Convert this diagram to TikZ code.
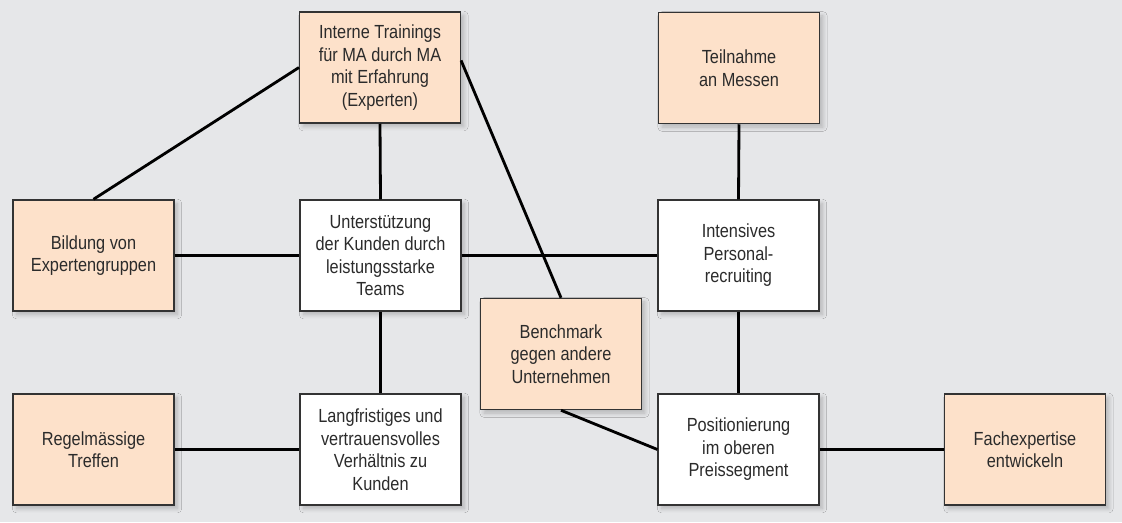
\documentclass[tikz,border=0pt]{standalone}
\usepackage{fontspec}
\setmainfont{Liberation Sans}[FakeStretch=0.86]
\usetikzlibrary{shadows.blur}
\definecolor{bggray}{HTML}{E6E7E9}
\definecolor{peach}{HTML}{FDE1CA}
\definecolor{boxline}{HTML}{333333}
\definecolor{txtgray}{HTML}{2B2B2B}

\begin{document}
\begin{tikzpicture}
        [x=0.025cm, y=-0.025cm,
        box/.style={rectangle, draw=boxline, line width=0.9pt, minimum width=4.02cm, minimum height=2.78cm,
            align=center, text=txtgray, font=\fontsize{13.5}{16}\selectfont, inner sep=2pt,
            blur shadow={shadow xshift=2.5pt, shadow yshift=-2.5pt, shadow blur radius=3pt, shadow blur steps=8, shadow opacity=22}},
        goal/.style={box, fill=peach},
        core/.style={box, fill=white},
        link/.style={black, line width=2pt}]

        % background
        \fill[bggray] (0,0) rectangle (1122,522);

        \node[goal] (interne) at (380,67.5) {Interne Trainings\\für MA durch MA\\mit Erfahrung\\(Experten)};
        \node[goal] (teilnahme) at (739,68) {Teilnahme\\an Messen};
        \node[goal] (bildung) at (93.5,255.5) {Bildung von\\Expertengruppen};
        \node[core] (unterst) at (380.5,255.5) {Unterstützung\\der Kunden durch\\leistungsstarke\\Teams};
        \node[core] (intensiv) at (738.5,255.5) {Intensives\\Personal-\\recruiting};
        \node[goal] (benchmark) at (561,354) {Benchmark\\gegen andere\\Unternehmen};
        \node[goal] (regel) at (93.5,449.5) {Regelmässige\\Treffen};
        \node[core] (langfr) at (380.5,449.5) {Langfristiges und\\vertrauensvolles\\Verhältnis zu\\Kunden};
        \node[core] (position) at (738.5,449.5) {Positionierung\\im oberen\\Preissegment};
        \node[goal] (fach) at (1025,449.5) {Fachexpertise\\entwickeln};

        % connections
        \draw[link] (bildung.north) -- (interne.west);
        \draw[link] (interne.south) -- (unterst.north);
        \draw[link] (interne.5) -- (benchmark.north);
        \draw[link] (bildung.east) -- (unterst.west);
        \draw[link] (unterst.east) -- (intensiv.west);
        \draw[link] (unterst.south) -- (langfr.north);
        \draw[link] (regel.east) -- (langfr.west);
        \draw[link] (teilnahme.south) -- (intensiv.north);
        \draw[link] (intensiv.south) -- (position.north);
        \draw[link] (benchmark.south) -- (position.west);
        \draw[link] (position.east) -- (fach.west);

    \end{tikzpicture}
\end{document}
